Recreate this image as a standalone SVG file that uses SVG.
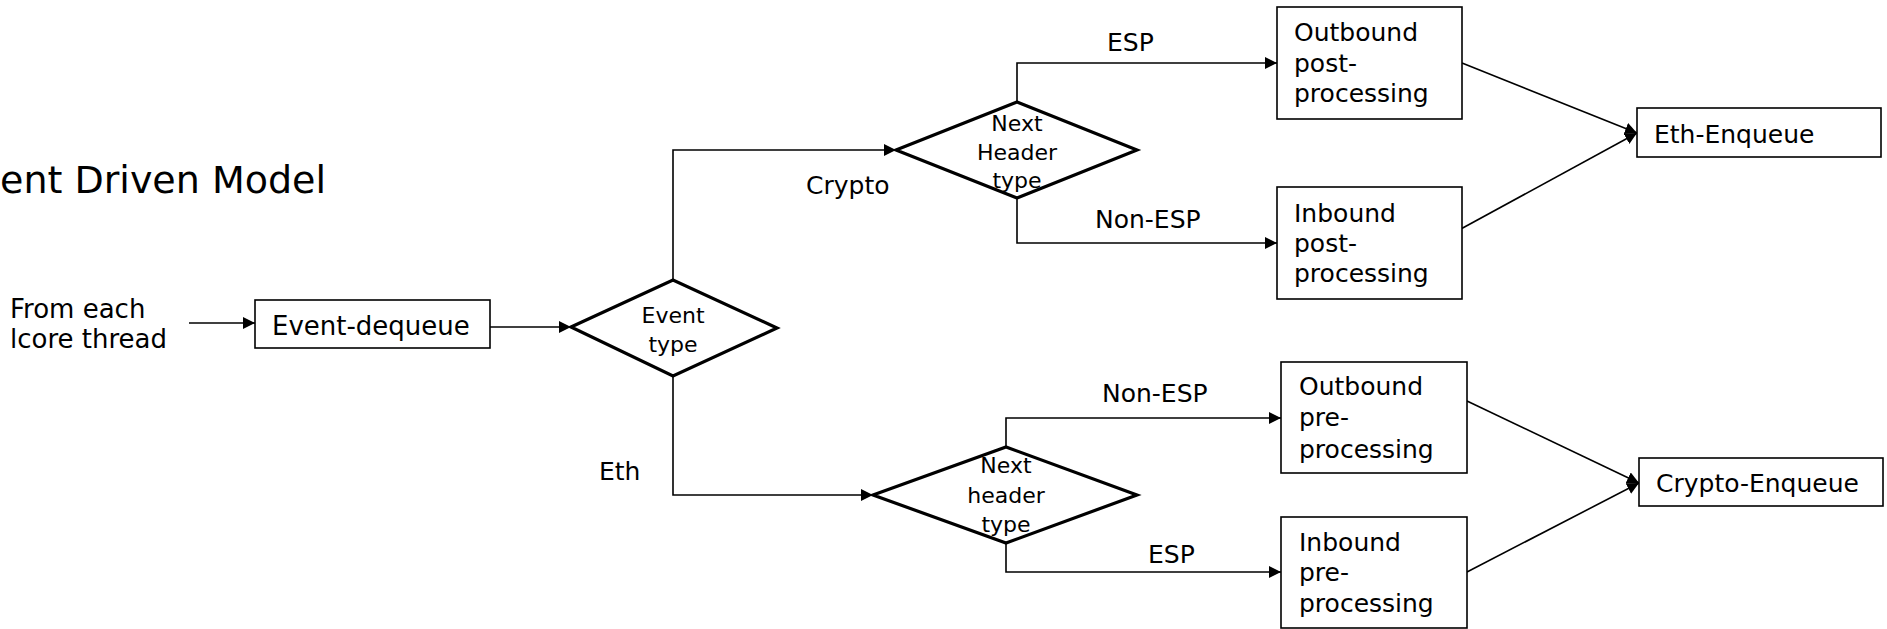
<svg xmlns="http://www.w3.org/2000/svg" width="1887" height="629" viewBox="0 0 1887 629">
  <style>
    text { font-family: "DejaVu Sans", "Liberation Sans", sans-serif; fill: #000; }
    .lbl { font-size: 25px; }
    .lbl-l { font-size: 26px; }
    .dtxt { font-size: 22px; text-anchor: middle; }
    .title { font-size: 37px; }
    .box { fill: #fff; stroke: #000; stroke-width: 1.6; }
    .dia { fill: #fff; stroke: #000; stroke-width: 3.2; stroke-linejoin: miter; }
    .conn { fill: none; stroke: #000; stroke-width: 1.6; }
  </style>
  <defs>
    <marker id="arrow" viewBox="0 0 12 12" refX="12" refY="6" markerWidth="12" markerHeight="12" markerUnits="userSpaceOnUse" orient="auto">
      <path d="M0,0 L12,6 L0,12 z" fill="#000"/>
    </marker>
  </defs>

  <rect width="1887" height="629" fill="#fff"/>

  <text class="title" x="0" y="193" textLength="326" lengthAdjust="spacingAndGlyphs">ent Driven Model</text>

  <g id="source">
    <text class="lbl-l" x="10" y="318">From each</text>
    <text class="lbl-l" x="10" y="348">lcore thread</text>
  </g>

  <!-- connectors -->
  <g id="connectors" class="conn" marker-end="url(#arrow)">
    <path d="M189,323 H255"/>
    <path d="M490,327 H571"/>
    <path d="M673,280 V150 H896"/>
    <path d="M673,376 V495 H873"/>
    <path d="M1017,102 V63 H1277"/>
    <path d="M1017,198 V243 H1277"/>
    <path d="M1006,447 V418 H1281"/>
    <path d="M1006,543 V572 H1281"/>
    <path d="M1462,63 L1637,133"/>
    <path d="M1459,230 L1637,133"/>
    <path d="M1467,401 L1639,483"/>
    <path d="M1467,572 L1639,483"/>
  </g>

  <g id="edge-labels">
    <text class="lbl" x="806" y="194">Crypto</text>
    <text class="lbl" x="599" y="480">Eth</text>
    <text class="lbl" x="1107" y="51">ESP</text>
    <text class="lbl" x="1095" y="228">Non-ESP</text>
    <text class="lbl" x="1102" y="402">Non-ESP</text>
    <text class="lbl" x="1148" y="563">ESP</text>
  </g>

  <g id="event-dequeue">
    <rect class="box" x="255" y="300" width="235" height="48"/>
    <text class="lbl-l" x="272" y="335">Event-dequeue</text>
  </g>

  <g id="event-type">
    <polygon class="dia" points="571,327 673,280 777,328 673,376"/>
    <text class="dtxt" x="673" y="323">Event</text>
    <text class="dtxt" x="673" y="352">type</text>
  </g>

  <g id="next-header-crypto">
    <polygon class="dia" points="896,150 1017,102 1137,150 1017,198"/>
    <text class="dtxt" x="1017" y="131">Next</text>
    <text class="dtxt" x="1017" y="160">Header</text>
    <text class="dtxt" x="1017" y="188">type</text>
  </g>

  <g id="next-header-eth">
    <polygon class="dia" points="873,495 1006,447 1137,495 1006,543"/>
    <text class="dtxt" x="1006" y="473">Next</text>
    <text class="dtxt" x="1006" y="503">header</text>
    <text class="dtxt" x="1006" y="532">type</text>
  </g>

  <g id="outbound-post">
    <rect class="box" x="1277" y="7" width="185" height="112"/>
    <text class="lbl" x="1294" y="41">Outbound</text>
    <text class="lbl" x="1294" y="72">post-</text>
    <text class="lbl" x="1294" y="102">processing</text>
  </g>

  <g id="inbound-post">
    <rect class="box" x="1277" y="187" width="185" height="112"/>
    <text class="lbl" x="1294" y="222">Inbound</text>
    <text class="lbl" x="1294" y="252">post-</text>
    <text class="lbl" x="1294" y="282">processing</text>
  </g>

  <g id="outbound-pre">
    <rect class="box" x="1281" y="362" width="186" height="111"/>
    <text class="lbl" x="1299" y="395">Outbound</text>
    <text class="lbl" x="1299" y="426">pre-</text>
    <text class="lbl" x="1299" y="458">processing</text>
  </g>

  <g id="inbound-pre">
    <rect class="box" x="1281" y="517" width="186" height="111"/>
    <text class="lbl" x="1299" y="551">Inbound</text>
    <text class="lbl" x="1299" y="581">pre-</text>
    <text class="lbl" x="1299" y="612">processing</text>
  </g>

  <g id="eth-enqueue">
    <rect class="box" x="1637" y="108" width="244" height="49"/>
    <text class="lbl" x="1654" y="143">Eth-Enqueue</text>
  </g>

  <g id="crypto-enqueue">
    <rect class="box" x="1639" y="458" width="244" height="48"/>
    <text class="lbl" x="1656" y="492">Crypto-Enqueue</text>
  </g>
</svg>
